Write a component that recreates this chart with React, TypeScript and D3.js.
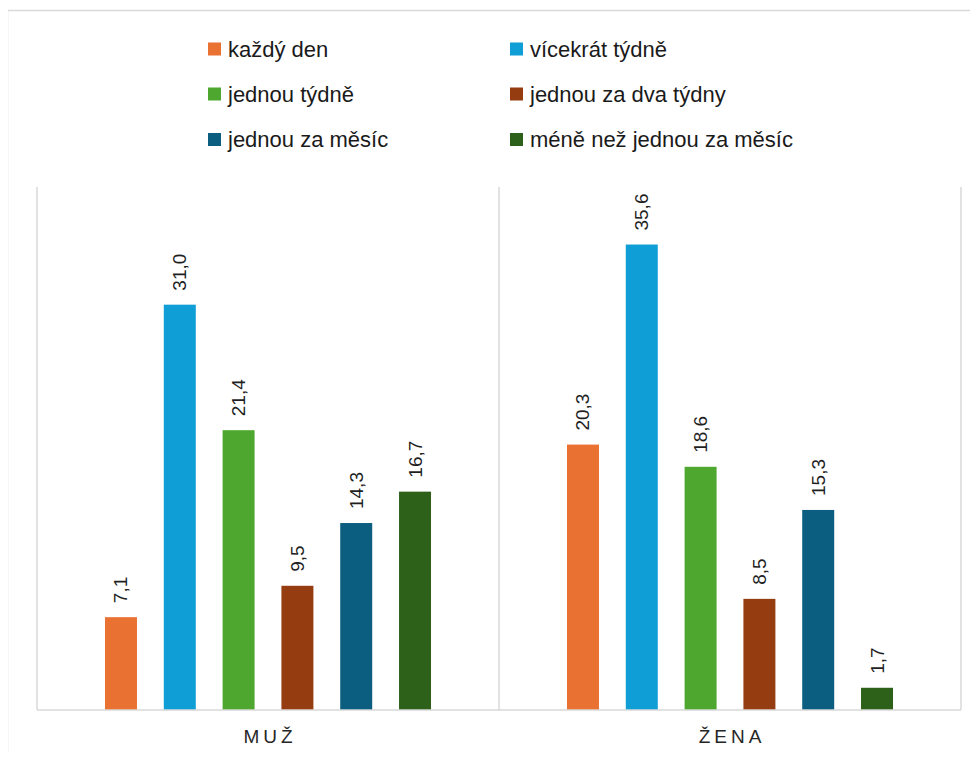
import React from "react";
import * as d3 from "d3";

// Gender groups on the category axis
const categories = ["MUŽ", "ŽENA"];

// Frequency answers (series), in legend order
const seriesNames = [
  "každý den",
  "vícekrát týdně",
  "jednou týdně",
  "jednou za dva týdny",
  "jednou za měsíc",
  "méně než jednou za měsíc",
];

// Percentages per series, one value per category (MUŽ, ŽENA)
const kazdyDen = [7.1, 20.3];
const vicekratTydne = [31.0, 35.6];
const jednouTydne = [21.4, 18.6];
const jednouZaDvaTydny = [9.5, 8.5];
const jednouZaMesic = [14.3, 15.3];
const meneNezJednouZaMesic = [16.7, 1.7];

const seriesValues = [
  kazdyDen,
  vicekratTydne,
  jednouTydne,
  jednouZaDvaTydny,
  jednouZaMesic,
  meneNezJednouZaMesic,
];

const colors = ["#E97132", "#0F9ED5", "#4EA72E", "#953C11", "#0B5E7F", "#2D6119"];

const WIDTH = 978;
const HEIGHT = 760;
const FONT = "'Liberation Sans', Arial, sans-serif";
const GRID = "#D9D9D9";

export default function App() {
  const plot = { left: 37, right: 961, top: 187, bottom: 710 };

  const x0 = d3
    .scaleBand<string>()
    .domain(categories)
    .range([plot.left, plot.right])
    .padding(0);

  const x1 = d3
    .scaleBand<string>()
    .domain(seriesNames)
    .range([0, x0.bandwidth()])
    .paddingInner(0.456)
    .paddingOuter(1.156);

  const y = d3.scaleLinear().domain([0, 40]).range([plot.bottom, plot.top]);

  const fmt = (v: number) => v.toFixed(1).replace(".", ",");

  // Legend: 2 columns x 3 rows (square left edge, square centre)
  const legendCols = [208, 510];
  const legendRows = [49, 94, 139.5];

  // Vertical separators at the category boundaries
  const boundaries = [...categories.map((c) => x0(c)!), plot.right];

  const catLetterSpacing = 4;

  return (
    <div style={{ margin: -8 }}>
      <svg width={WIDTH} height={HEIGHT} style={{ display: "block", background: "#fff" }}>
        {/* chart frame */}
        <rect x={7.5} y={10.5} width={980} height={770} fill="#fff" stroke={GRID} strokeWidth={1.5} />

        {/* category separators */}
        {boundaries.map((bx, i) => (
          <line
            key={i}
            x1={bx}
            x2={bx}
            y1={plot.top}
            y2={plot.bottom}
            stroke={GRID}
            strokeWidth={1.5}
          />
        ))}

        {/* bars */}
        {categories.map((c, ci) => (
          <g key={c} transform={`translate(${x0(c)},0)`}>
            {seriesNames.map((s, si) => {
              const v = seriesValues[si][ci];
              const bx = x1(s)!;
              const by = y(v);
              return (
                <g key={s}>
                  <rect
                    x={bx}
                    y={by}
                    width={x1.bandwidth()}
                    height={plot.bottom - by}
                    fill={colors[si]}
                  />
                  <text
                    transform={`translate(${bx + x1.bandwidth() / 2},${by - 14}) rotate(-90)`}
                    textAnchor="start"
                    dominantBaseline="central"
                    fontFamily={FONT}
                    fontSize={19}
                    fill="#1f1f1f"
                  >
                    {fmt(v)}
                  </text>
                </g>
              );
            })}
          </g>
        ))}

        {/* x axis line */}
        <line
          x1={plot.left}
          x2={plot.right}
          y1={plot.bottom}
          y2={plot.bottom}
          stroke={GRID}
          strokeWidth={1.5}
        />

        {/* category labels */}
        {categories.map((c) => (
          <text
            key={c}
            x={x0(c)! + x0.bandwidth() / 2 + catLetterSpacing / 2}
            y={743}
            textAnchor="middle"
            fontFamily={FONT}
            fontSize={19}
            letterSpacing={catLetterSpacing}
            fill="#262626"
          >
            {c}
          </text>
        ))}

        {/* legend */}
        {seriesNames.map((s, i) => {
          const lx = legendCols[i % 2];
          const ly = legendRows[Math.floor(i / 2)];
          return (
            <g key={s} transform={`translate(${lx},${ly})`}>
              <rect x={0} y={-6.5} width={13} height={13} fill={colors[i]} />
              <text x={20} y={7.5} fontFamily={FONT} fontSize={22} fill="#1a1a1a">
                {s}
              </text>
            </g>
          );
        })}
      </svg>
    </div>
  );
}
